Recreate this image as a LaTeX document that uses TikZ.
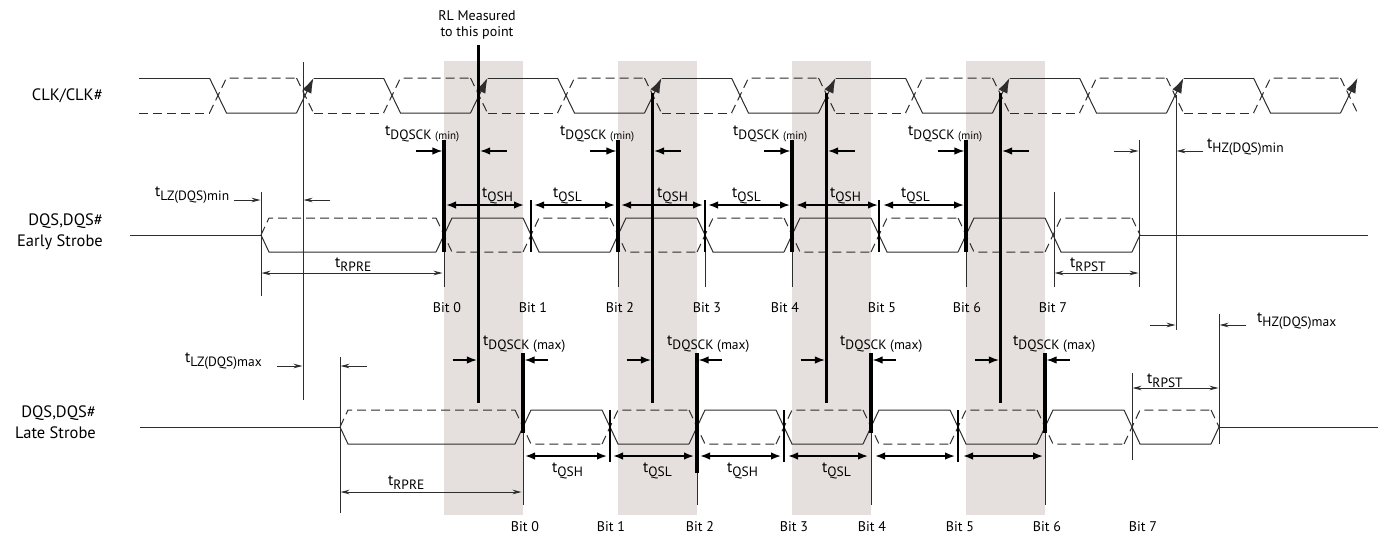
\documentclass[tikz,border=0pt]{standalone}
\usepackage{fontspec}
\setmainfont{PT Sans}
\usetikzlibrary{arrows.meta}
\definecolor{S1}{RGB}{229,224,221}
\definecolor{W1}{RGB}{45,45,45}
\newcommand{\tq}[1]{t\raisebox{-4.5pt}{\fontsize{13.5}{13.5}\selectfont #1}}
\newcommand{\sm}[1]{{\fontsize{11}{11}\selectfont #1}}
% differential strobe, origin where it leaves the mid level
\newcommand{\strobewave}{%
  \draw[wave] (0,0) -- (8,17) -- (175,17);
  \draw[cmp] (0,0) -- (8,-17) -- (175,-17);
  \foreach \rx in {183,357,531,705} {
    \draw[wave] (\rx-8,17) -- (\rx+8,-17) -- (\rx+79,-17);
    \draw[cmp] (\rx-8,-17) -- (\rx+8,17) -- (\rx+79,17);
  }
  \foreach \fx in {270,444,618,792} {
    \draw[wave] (\fx-8,-17) -- (\fx+8,17) -- (\fx+79,17);
    \draw[cmp] (\fx-8,17) -- (\fx+8,-17) -- (\fx+79,-17);
  }
  \draw[wave] (871,17) -- (879,0);
  \draw[cmp] (871,-17) -- (879,0);
}

\begin{document}
\begin{tikzpicture}[x=1pt, y=-1pt,
  wave/.style={W1, line width=1pt},
  cmp/.style={wave, dash pattern=on 9pt off 5pt},
  guide/.style={W1, line width=0.9pt},
  bar/.style={black, line width=3.2pt},
  midbar/.style={black, line width=1.8pt},
  push/.style={black, line width=1.3pt, -{Latex[length=10pt,width=7.5pt]}},
  span/.style={black, line width=1.6pt, {Latex[length=10pt,width=7.5pt]}-{Latex[length=10pt,width=7.5pt]}},
  nudge/.style={W1, line width=0.9pt, -{Stealth[length=9pt,width=4.5pt]}},
  gap/.style={W1, line width=0.9pt, {Stealth[length=9pt,width=4.5pt]}-{Stealth[length=9pt,width=4.5pt]}},
  sig/.style={font=\fontsize{16.5}{21}\selectfont, align=right, anchor=east, inner sep=0pt},
  lbl/.style={font=\fontsize{15.5}{15.5}\selectfont, inner sep=0pt, anchor=base west},
  bit/.style={font=\fontsize{14}{14}\selectfont, inner sep=0pt}]
  \useasboundingbox (0,0) rectangle (1380,535);

  % data eye shading
  \foreach \x in {444,618,792,966} \fill[S1] (\x,61) rectangle (\x+79,515);

  % CLK/CLK#
  \draw[wave] (139,78) -- (209.5,78);
  \draw[cmp] (139,113) -- (209.5,113);
  \foreach \fx in {218,392,...,1262} {
    \draw[wave] (\fx-8.5,78) -- (\fx+8.5,113) -- (\fx+78.5,113);
    \draw[cmp] (\fx-8.5,113) -- (\fx+8.5,78) -- (\fx+78.5,78);
  }
  \foreach \rx in {305,479,...,1349} {
    \draw[cmp] (\rx-8.5,78) -- (\rx+8.5,113);
    \draw[wave, -{Latex[length=15pt,width=10pt]}] (\rx-8.5,113) -- (\rx+8.5,78);
  }
  \foreach \rx in {305,479,...,1175} {
    \draw[wave] (\rx+8.5,78) -- (\rx+78.5,78);
    \draw[cmp] (\rx+8.5,113) -- (\rx+78.5,113);
  }

  % strobes
  \draw[wave] (130,235) -- (261,235);
  \begin{scope}[shift={(261,235)}] \strobewave \end{scope}
  \draw[wave] (1140,235) -- (1368,235);
  \draw[wave] (140,427) -- (340,427);
  \begin{scope}[shift={(340,427)}] \strobewave \end{scope}
  \draw[wave] (1219,427) -- (1378,427);

  % reference lines
  \draw[guide] (303,62) -- (303,400);
  \draw[guide] (261,192) -- (261,296);
  \draw[guide] (340,357) -- (340,513);
  \draw[guide] (1054,192) -- (1054,287);
  \draw[guide] (1139,140) -- (1139,287);
  \draw[guide] (1176,95) -- (1176,330);
  \draw[guide] (1132,373) -- (1132,460);
  \draw[guide] (1219,314) -- (1219,444);

  % clock edges
  \draw[bar] (478.5,45) -- (478.5,403);
  \foreach \c in {652.5,826.5,1000.5} \draw[bar] (\c,93) -- (\c,403);

  % early strobe edges
  \foreach \x/\c in {444/478.5,618/652.5,792/826.5,966/1000.5} {
    \draw[bar] (\x,140) -- (\x,252);
    \draw[guide] (\x,252) -- (\x,287);
    \draw[push] (\x-28,151) -- (\x-1.6,151);
    \draw[push] (\c+28,151) -- (\c+1.6,151);
  }
  \draw[midbar] (531,200) -- (531,252);
  \draw[midbar] (705,200) -- (705,252);
  \draw[guide] (705,252) -- (705,287);
  \draw[midbar] (879,200) -- (879,252);
  \foreach \a/\b in {446/524,534/615,621/703,708/790,796/878,883/964}
    \draw[span] (\a,205) -- (\b,205);

  % late strobe edges
  \foreach \x/\c in {523/478.5,697/652.5,871/826.5,1045/1000.5} {
    \draw[push] (\c-26,360) -- (\c-1.6,360);
    \draw[push] (\x+25,360) -- (\x+1.6,360);
  }
  \foreach \x in {523,871,1045} {
    \draw[bar] (\x,353) -- (\x,433);
    \draw[guide] (\x,433) -- (\x,505);
  }
  \draw[bar] (697,353) -- (697,473);
  \draw[guide] (697,473) -- (697,505);
  \foreach \x in {610,784,958} \draw[midbar] (\x,410) -- (\x,462);
  \foreach \a/\b in {525/607,613/694,700/781,788/868,875/955,963/1043}
    \draw[span] (\a,456) -- (\b,456);

  % pre/postamble and hi-z
  \draw[gap] (261.5,273) -- (442.5,273);
  \draw[gap] (340.5,492) -- (521.5,492);
  \draw[gap] (1054.5,273) -- (1138.5,273);
  \draw[gap] (1132.5,388) -- (1218.5,388);
  \draw[nudge] (234,200) -- (260.5,200);
  \draw[nudge] (330,200) -- (303.5,200);
  \draw[nudge] (277,366) -- (302.5,366);
  \draw[nudge] (367,366) -- (340.5,366);
  \draw[nudge] (1114,151) -- (1138.5,151);
  \draw[nudge] (1203,151) -- (1176.5,151);
  \draw[nudge] (1150,325) -- (1175.5,325);
  \draw[nudge] (1246,325) -- (1219.5,325);

  % labels
  \node[sig] (clk) at (103,96) {CLK/CLK\#};
  \node[sig] (early) at (103,232) {DQS,DQS\#\\Early Strobe};
  \node[sig] (late) at (96,422) {DQS,DQS\#\\Late Strobe};
  \node[font=\fontsize{14}{16}\selectfont, align=center, inner sep=0pt] (rl) at (477,25) {RL Measured\\to this point};

  \foreach \x in {385,560,733,908} \node[lbl] (mn\x) at (\x,135) {\tq{DQSCK \sm{(min)}}};
  \foreach \x in {483,667,840,1013} \node[lbl] (mx\x) at (\x,345) {\tq{DQSCK (max)}};
  \foreach \x/\s in {482/QSH,553/QSL,657/QSH,732/QSL,830/QSH,901/QSL}
    \node[lbl] (qe\x) at (\x,197) {\tq{\s}};
  \foreach \x/\s in {552/QSH,643/QSL,727/QSH,822/QSL}
    \node[lbl] (ql\x) at (\x,472) {\tq{\s}};
  \node[lbl] (rpree) at (335,267) {\tq{RPRE}};
  \node[lbl] (rprel) at (388,485) {\tq{RPRE}};
  \node[lbl] (rpste) at (1070,267) {\tq{RPST}};
  \node[lbl] (rpstl) at (1147,383) {\tq{RPST}};
  \node[lbl] (lzmin) at (155,196) {\tq{LZ(DQS)min}};
  \node[lbl] (lzmax) at (185,362) {\tq{LZ(DQS)max}};
  \node[lbl] (hzmin) at (1207,148) {\tq{HZ(DQS)min}};
  \node[lbl] (hzmax) at (1257,322) {\tq{HZ(DQS)max}};

  \foreach \x/\n in {447/0,533/1,620/2,707/3,785/4,882/5,967/6,1053/7}
    \node[bit] (be\n) at (\x,308) {Bit \n};
  \foreach \x/\n in {525/0,611/1,700/2,794/3,872/4,960/5,1047/6,1143/7}
    \node[bit] (bl\n) at (\x,527) {Bit \n};
\end{tikzpicture}
\end{document}
